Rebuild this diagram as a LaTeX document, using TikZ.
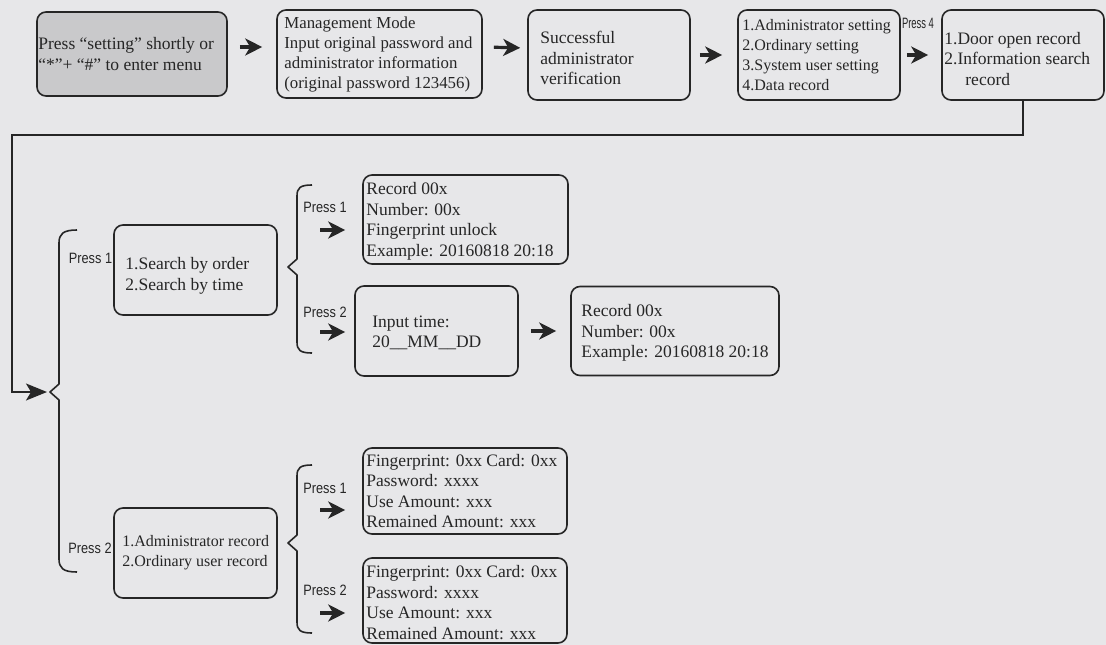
\documentclass[tikz,border=0pt]{standalone}
\usepackage{fontspec}
\setmainfont{Liberation Serif}
\newfontfamily\pressfont[FakeStretch=0.85]{Liberation Sans}
\usetikzlibrary{arrows.meta}
\definecolor{paper}{HTML}{E7E7E9}
\definecolor{ink}{HTML}{262626}
\definecolor{shade}{HTML}{C9C9CB}
\begin{document}
\begin{tikzpicture}[x=1pt,y=-1pt,
  box/.style={draw=ink, line width=1.6pt, rounded corners=9pt, inner sep=0pt},
  txt/.style={anchor=west, align=left, inner sep=0pt, text=ink, font=\fontsize{17.5}{20.5}\selectfont},
  smalltxt/.style={font=\fontsize{16}{20}\selectfont},
  press/.style={inner sep=0pt, text=ink, font=\pressfont\fontsize{15}{15}\selectfont},
  arr/.style={draw=ink, fill=ink, line width=3.2pt, -{Stealth[length=17pt,width=17pt,inset=5pt]}},
  wire/.style={draw=ink, line width=1.7pt},
  brace/.style={draw=ink, line width=1.6pt, line join=round}
]
\fill[paper] (0,0) rectangle (1106,645);
\useasboundingbox (0,0) rectangle (1106,645);

% ---------- top row ----------
\node[box, fill=shade, minimum width=190pt, minimum height=84pt] (b1) at (132,54) {};
\node[txt] (t1) at ([xshift=2pt]b1.west) {Press “setting” shortly or\\“*”+ “\#” to enter menu};

\node[box, minimum width=205pt, minimum height=88pt] (b2) at (379.5,54) {};
\node[txt, font=\fontsize{16.8}{20}\selectfont] (t2) at ([xshift=8pt]b2.west) {Management Mode\\Input original password and\\administrator information\\(original password 123456)};

\node[box, minimum width=162pt, minimum height=90pt] (b3) at (609,55) {};
\node[txt] (t3) at ([xshift=13pt,yshift=-3pt]b3.west) {Successful\\administrator\\verification};

\node[box, minimum width=162pt, minimum height=90pt] (b4) at (819,55) {};
\node[txt, smalltxt] (t4) at ([xshift=5pt]b4.west) {1.Administrator setting\\2.Ordinary setting\\3.System user setting\\4.Data record};

\node[box, minimum width=162pt, minimum height=90pt] (b5) at (1023,55) {};
\node[txt] (t5) at ([xshift=3pt,yshift=-4pt]b5.west) {1.Door open record\\2.Information search\\\hspace*{21pt}record};

\node[press] (p4) at (918,23) {\scalebox{0.74}[1]{Press 4}};

\draw[arr, shorten <=12pt, shorten >=14pt] ([yshift=7pt]b1.east) -- ([yshift=7pt]b2.west);
\draw[arr, shorten <=11pt, shorten >=7pt] ([yshift=7pt]b2.east) -- ([yshift=7pt]b3.west);
\draw[arr, shorten <=9pt, shorten >=15pt] (b3.east) -- (b4.west);
\draw[arr, shorten <=6pt, shorten >=13pt] (b4.east) -- (b5.west);

% ---------- long connector to main brace ----------
\coordinate (k1) at (12,135);
\coordinate (k2) at (50,392);
\draw[wire, -{Stealth[length=21pt,width=17pt,inset=5pt]}, shorten >=3pt] (b5.south) |- (k1) |- (k2);

% main brace
\draw[brace] (77,230) .. controls (63,230) and (59,234) .. (59,243) -- (59,384) -- (50,392) -- (59,400) -- (59,559) .. controls (59,568) and (63,572) .. (77,572);

% ---------- second level ----------
\node[box, minimum width=163pt, minimum height=90pt] (s1) at (195.5,270) {};
\node[txt] (ts1) at ([xshift=12pt,yshift=-6pt]s1.west) {1.Search by order\\2.Search by time};
\node[press] (p1) at (90.5,258) {Press 1};

\node[box, minimum width=163pt, minimum height=90pt] (s2) at (195.5,553) {};
\node[txt, smalltxt] (ts2) at ([xshift=9pt]s2.west) {1.Administrator record\\2.Ordinary user record};
\node[press] (p2) at (90,548) {Press 2};

% braces
\draw[brace] (312,185) .. controls (300,185) and (297,188) .. (297,196) -- (297,259) -- (288,267) -- (297,275) -- (297,342) .. controls (297,350) and (300,353) .. (312,353);
\draw[brace] (312,465) .. controls (300,465) and (297,468) .. (297,476) -- (297,535) -- (288,543) -- (297,551) -- (297,622) .. controls (297,630) and (300,633) .. (312,633);

% ---------- search results ----------
\node[box, minimum width=205pt, minimum height=89pt] (r1) at (465.5,219.5) {};
\node[txt] (tr1) at ([xshift=4pt,yshift=-2pt]r1.west) {Record 00x\\Number: 00x\\Fingerprint unlock\\Example: 20160818 20:18};
\node[press] (p11) at (325,207) {Press 1};
\coordinate (a11) at (320,230);
\draw[arr, shorten >=17pt] (a11) -- (a11 -| r1.west);

\node[box, minimum width=163pt, minimum height=90pt] (in) at (436.5,331) {};
\node[txt] (tin) at ([xshift=18pt,yshift=-2pt]in.west) {Input time:\\20\_\_MM\_\_DD};
\node[press] (p12) at (325,312) {Press 2};
\coordinate (a12) at (320,332);
\draw[arr, shorten >=9pt] (a12) -- (a12 -| in.west);

\node[box, minimum width=208pt, minimum height=89pt] (r2) at (675,331) {};
\node[txt] (tr2) at ([xshift=11pt,yshift=-2pt]r2.west) {Record 00x\\Number: 00x\\Example: 20160818 20:18};
\draw[arr, shorten <=12pt, shorten >=14pt] (in.east) -- (r2.west);

% ---------- user records ----------
\node[box, minimum width=204pt, minimum height=86pt] (f1) at (465,491) {};
\node[txt] (tf1) at ([xshift=4pt]f1.west) {Fingerprint: 0xx Card: 0xx\\Password: xxxx\\Use Amount: xxx\\Remained Amount: xxx};
\node[press] (p21) at (325,488) {Press 1};
\coordinate (a21) at (320,510);
\draw[arr, shorten >=17pt] (a21) -- (a21 -| f1.west);

\node[box, minimum width=204pt, minimum height=85pt] (f2) at (465,600.5) {};
\node[txt] (tf2) at ([xshift=4pt,yshift=-2pt]f2.west) {Fingerprint: 0xx Card: 0xx\\Password: xxxx\\Use Amount: xxx\\Remained Amount: xxx};
\node[press] (p22) at (325,590) {Press 2};
\coordinate (a22) at (320,613);
\draw[arr, shorten >=17pt] (a22) -- (a22 -| f2.west);
\end{tikzpicture}
\end{document}
